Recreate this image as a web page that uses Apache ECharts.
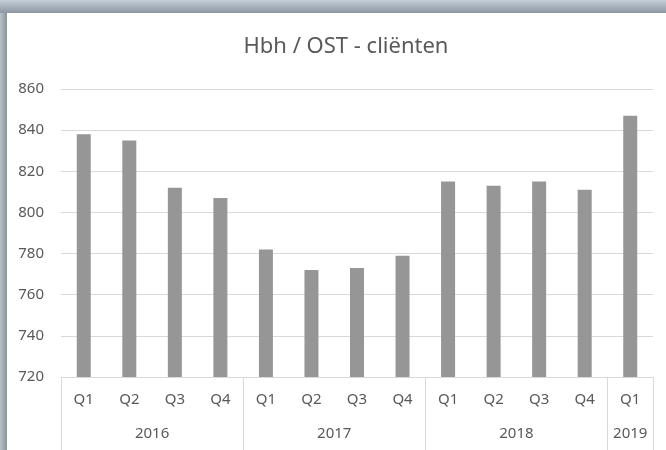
<!DOCTYPE html>
<html>
<head>
<meta charset="utf-8">
<script src="https://cdn.jsdelivr.net/npm/echarts@6/dist/echarts.min.js"></script>
<style>
html,body{margin:0;padding:0;background:#fff;}
#chart{width:666px;height:450px;}
</style>
</head>
<body>
<div id="chart"></div>
<script>
const titleText = 'Hbh / OST - cliënten';
const quarters = ['Q1','Q2','Q3','Q4','Q1','Q2','Q3','Q4','Q1','Q2','Q3','Q4','Q1'];
const years = ['2016','2016','2016','2016','2017','2017','2017','2017','2018','2018','2018','2018','2019'];
const values = [838, 835, 812, 807, 782, 772, 773, 779, 815, 813, 815, 811, 847];
const yTicks = [720, 740, 760, 780, 800, 820, 840, 860];

// year groups derived from the per-bar year list
const groups = [];
years.forEach((y, i) => {
  const last = groups[groups.length - 1];
  if (last && last.name === y) { last.end = i + 1; }
  else groups.push({ name: y, start: i, end: i + 1 });
});
const boundaries = [0].concat(groups.map(g => g.end));
const centers = groups.map(g => (g.start + g.end) / 2);

const chart = echarts.init(document.getElementById('chart'), null, { renderer: 'canvas' });
const font = 'Noto Sans';
chart.setOption({
  animation: false,
  backgroundColor: '#ffffff',
  graphic: [
    { type: 'rect', left: 0, top: 0, shape: { width: 666, height: 13 }, z: -10,
      style: { fill: new echarts.graphic.LinearGradient(0, 0, 0, 1, [
        { offset: 0, color: '#c6ced7' }, { offset: 1, color: '#8c96a2' }]) } },
    { type: 'rect', left: 0, top: 13, shape: { width: 7, height: 437 }, z: -10,
      style: { fill: new echarts.graphic.LinearGradient(0, 0, 1, 0, [
        { offset: 0, color: '#b9c1ca' }, { offset: 1, color: '#8a929c' }]) } }
  ],
  title: {
    text: titleText, left: 341, textAlign: 'center', top: 31,
    textStyle: { fontFamily: font, fontSize: 22, fontWeight: 'normal', color: '#595959' }
  },
  grid: { left: 61, right: 13, top: 89, bottom: 73, containLabel: false },
  xAxis: [
    {
      type: 'category', data: quarters, boundaryGap: true,
      axisLine: { show: true, lineStyle: { color: '#d9d9d9', width: 1 } },
      axisTick: { show: false },
      axisLabel: { margin: 15, color: '#595959', fontFamily: font, fontSize: 15, interval: 0 },
      splitLine: { show: false }
    },
    {
      type: 'value', position: 'bottom', min: 0, max: quarters.length,
      axisLine: { show: false },
      axisTick: { show: true, customValues: boundaries, length: 73, inside: false,
        lineStyle: { color: '#d9d9d9', width: 1 } },
      axisLabel: { show: true, customValues: centers, margin: 49,
        color: '#595959', fontFamily: font, fontSize: 15,
        formatter: v => { const k = centers.indexOf(v); return k >= 0 ? groups[k].name : ''; } },
      splitLine: { show: false }
    }
  ],
  yAxis: {
    type: 'value', min: 720, max: 860, interval: 20,
    axisLine: { show: false }, axisTick: { show: false },
    axisLabel: { margin: 17, color: '#595959', fontFamily: font, fontSize: 15,
      customValues: yTicks },
    splitLine: { show: true, lineStyle: { color: '#d9d9d9', width: 1 } }
  },
  series: [{
    type: 'bar', data: values, xAxisIndex: 0, yAxisIndex: 0,
    barWidth: 14, itemStyle: { color: '#969696' }
  }]
});
</script>
</body>
</html>
